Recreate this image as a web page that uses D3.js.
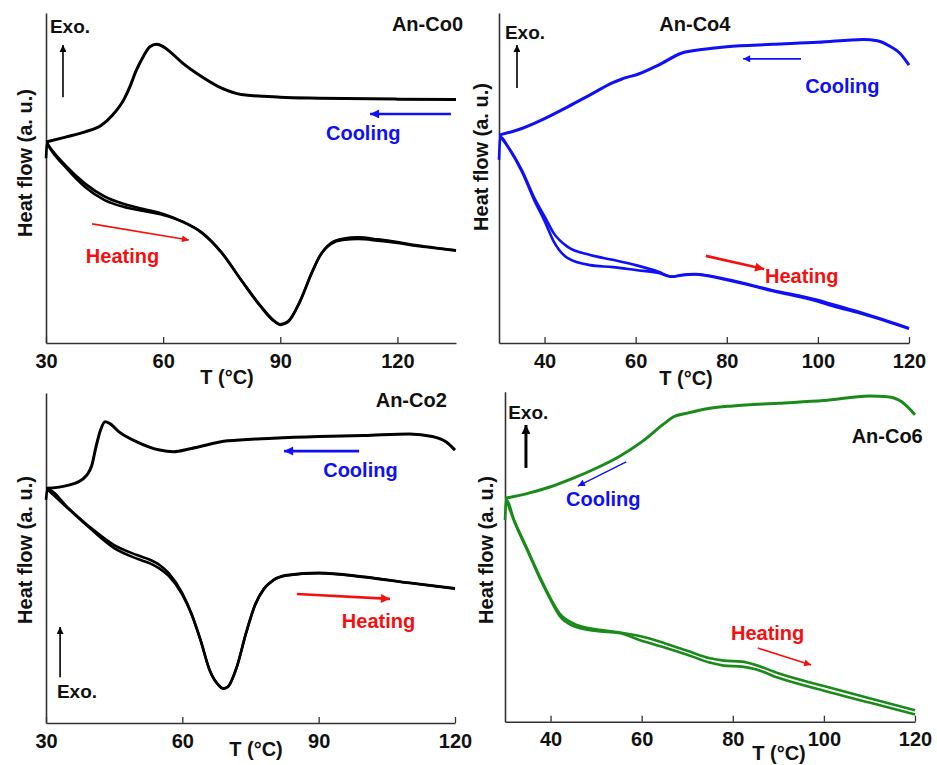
<!DOCTYPE html>
<html><head><meta charset="utf-8">
<script src="https://cdn.jsdelivr.net/npm/d3@7"></script>
<style>
html,body{margin:0;padding:0;background:#fff;}
text{font-family:"Liberation Sans",Arial,sans-serif;font-weight:bold;}
</style></head>
<body><svg id="chart" width="937" height="765"></svg>
<script>
// ---------------- DATA (T in °C, heat flow in arbitrary units) ----------------
const co0Cooling = [[30,60.9],[35,62.4],[40,64],[44,65.8],[47,69],[50,73.9],[51.5,77.7],[53,82.3],[55,87],[56.6,89.8],[58.3,90.5],[60,89.8],[62,88],[65,84.8],[70,80.6],[75,77.2],[80,75.3],[90,74.5],[100,74.2],[120,73.9],[135,73.8]];
const co0HeatingA = [[30,56],[30.3,60.5],[30.8,59.4],[35,53.3],[40,47.3],[45,43.3],[50,41.2],[55,40],[60,38.8],[65,36.7],[70,33.3],[75,27.3],[80,19],[85,11],[88,7],[90,5.5],[92,6.4],[95,12.4],[98,21],[100,26],[103,30],[106,31.2],[110,31.5],[115,31],[120,30.3],[125,29.4],[130,28.7],[135,28]];
const co0HeatingB = [[30.3,60.5],[30.8,59.6],[35,53.8],[40,48.3],[45,44.4],[50,42.1],[55,40.6],[60,39.1],[65,36.8],[70,33.4],[75,27.4],[80,19.1],[85,11.2],[88,7.2],[90,5.7],[92,6.6],[95,12.6],[98,21.2],[100,26.2],[103,30.3],[106,31.6],[110,32],[115,31.4],[120,30.6],[125,29.6],[130,28.8],[135,28.1]];

const co4Cooling = [[30,63],[35,65],[40,68],[45,71.5],[50,75.2],[55,78.9],[57,80],[58,80.5],[60,81.2],[65,84.2],[70,87.8],[75,89],[80,89.8],[90,90.5],[100,91.1],[110,92],[113,91.6],[116,89.8],[118,87.8],[120,84.2]];
const co4HeatingA = [[30,55.5],[30.3,62.5],[32,59.5],[35,52.4],[38,43.3],[40,38.4],[42,33.3],[45,29.2],[50,26.7],[55,25.2],[60,23.6],[65,21.6],[68,20.1],[70,20.6],[73,20.9],[80,19.3],[90,16],[100,13],[103,11.8],[110,9],[120,4.5]];
const co4HeatingB = [[30.3,62.5],[32,59.3],[35,52],[38,42.5],[40,37],[42,30.8],[45,25.8],[50,23.6],[55,23],[60,22.1],[65,21.2],[68,20.1],[70,20.5],[73,20.8],[80,19.1],[90,15.8],[100,12.6],[103,11.3],[110,8.7],[120,4.3]];

const co2Cooling = [[30,71.1],[35,72.1],[38,73.8],[40,77.7],[41,83.7],[42,88.8],[43,91.3],[44,90.8],[46,88.3],[50,85.2],[55,82.7],[58,82.2],[62,83.2],[70,85.5],[80,86.3],[90,86.8],[100,87.1],[110,87.6],[115,86.8],[118,85.2],[120,82.7]];
const co2HeatingA = [[30,67.6],[30.3,70.8],[35,65],[40,59],[45,53.9],[50,50.9],[53,49.4],[55,47.9],[57,45.4],[60,39.3],[62,33.2],[64,25.2],[66,16.1],[68,11.5],[69,10.5],[70,11],[72,17.1],[74,27.2],[76,35.8],[78,40.8],[80,43.3],[83,44.8],[90,45.5],[100,44.3],[110,42.5],[120,40.8]];
const co2HeatingB = [[30.3,70.8],[35,64.8],[40,58.6],[45,53],[50,49.8],[53,48.3],[55,46.8],[57,44.6],[60,38.9],[62,33],[64,25.1],[66,16],[68,11.4],[69,10.4],[70,10.9],[72,17],[74,27.1],[76,35.7],[78,40.7],[80,43.2],[83,44.7],[90,45.4],[100,44.2],[110,42.4],[120,40.7]];

const co6Cooling = [[30,67.7],[35,69.2],[40,71.2],[45,73.8],[50,76.8],[55,80.3],[60,84.8],[65,90.4],[67,92.4],[70,93.5],[75,95],[80,95.7],[90,96.5],[100,97.3],[110,98.7],[114,98.5],[117,97],[120,93]];
const co6HeatingA = [[30,61.1],[30.3,67.2],[32,61.1],[35,52],[38,42.9],[40,37.4],[42,32.8],[45,29.8],[50,28],[55,27.1],[60,25.8],[65,23.8],[70,21.5],[75,19.2],[78,18.5],[82,18.2],[85,17.2],[90,14.7],[100,10.8],[110,7.1],[120,3.5]];
const co6HeatingB = [[30.3,67.2],[32,60.8],[35,51.6],[38,42.4],[40,36.9],[42,32],[45,29],[50,27.5],[55,26.9],[60,24.5],[65,22.5],[70,20.3],[75,17.9],[78,17],[82,16.7],[85,15.9],[90,13.3],[100,9.4],[110,5.8],[120,2.2]];

const ticksCo0 = [30,60,90,120];
const ticksCo4 = [40,60,80,100,120];
const ticksCo2 = [30,60,90,120];
const ticksCo6 = [40,60,80,100,120];

const sampleNames = ["An-Co0","An-Co4","An-Co2","An-Co6"];
const xLabel = "T (°C)";
const yLabel = "Heat flow (a. u.)";
const exoLabel = "Exo.";
const coolLabel = "Cooling";
const heatLabel = "Heating";

// annotation anchors in data units [T, HF]
const exoArrows   = [[[34.35,74.5],[34.35,90.3]],[[33.95,77.3],[33.95,90.3]],[[33.1,13.9],[33.1,29.1]],[[34.6,76.9],[34.6,89.9]]];
const exoText     = [[31,93.9],[31.3,92.1],[32.4,7.6],[30.7,91.7]];
const nameText    = [[136.8,94.5],[73,94.5],[118.2,95.8],[121.7,84.5]];
const coolArrows  = [[[133.7,69.4],[113,69.4]],[[96.3,86.1],[83.6,86.1]],[[98.9,82.4],[82.4,82.4]],[[56.6,78.7],[46,71.4]]];
const coolText    = [[101.7,61.5],[97.2,75.8],[91,74.5],[43.4,65.4]];
const heatArrows  = [[[41.8,36.1],[66.6,31.2]],[[75.4,26.4],[88.2,22.4]],[[85.2,39.1],[105.7,37.6]],[[85.5,22.3],[97.2,17.2]]];
const heatText    = [[40.2,24.2],[88.4,18.2],[95.1,28.8],[79.6,24.8]];

// ---------------- LAYOUT ----------------
const panels = [
  {name:sampleNames[0], cool:co0Cooling, heat:[co0HeatingA,co0HeatingB], ticks:ticksCo0, color:"#000000",
   xd:[30,135], xr:[46,456], yr:[343,13], nameAnchor:"end", xlabX:227, xlabY:384, ylabX:32, ylabY:163, tickY:368,
   exoW:1.6, coolW:2.6, heatW:1.6},
  {name:sampleNames[1], cool:co4Cooling, heat:[co4HeatingA,co4HeatingB], ticks:ticksCo4, color:"#1010f5",
   xd:[30,120], xr:[499,909], yr:[343,13], nameAnchor:"middle", xlabX:686, xlabY:385, ylabX:488, ylabY:157, tickY:368,
   exoW:1.6, coolW:1.6, heatW:2.6},
  {name:sampleNames[2], cool:co2Cooling, heat:[co2HeatingA,co2HeatingB], ticks:ticksCo2, color:"#000000",
   xd:[30,120], xr:[46,455], yr:[723,393], nameAnchor:"end", xlabX:256, xlabY:756, ylabX:32, ylabY:550, tickY:748,
   exoW:1.6, coolW:2.6, heatW:2.6},
  {name:sampleNames[3], cool:co6Cooling, heat:[co6HeatingA,co6HeatingB], ticks:ticksCo6, color:"#1a8a1a",
   xd:[30,120], xr:[505,915], yr:[721.7,391.7], nameAnchor:"end", xlabX:779, xlabY:760, ylabX:493, ylabY:550, tickY:746,
   exoW:3, coolW:1.4, heatW:1.6}
];

const FS = 20;
const svg = d3.select("#chart");
const defs = svg.append("defs");
function marker(id,color,w,h){
  defs.append("marker").attr("id",id).attr("viewBox","0 0 10 10").attr("refX",10).attr("refY",5)
    .attr("markerUnits","userSpaceOnUse").attr("markerWidth",w).attr("markerHeight",h).attr("orient","auto")
    .append("path").attr("d","M0,0 L10,5 L0,10 Z").attr("fill",color);
}
marker("mBlackS","#000",9,7);
marker("mBlackL","#000",12,9);
marker("mBlue","#1010f5",14,9);
marker("mBlueS","#1010f5",10,7);
marker("mRed","#f51010",14,9);
marker("mRedS","#f51010",10,7);

const yScaleDomain = [0,100];
const blue = "#1010f5", red = "#f51010";

panels.forEach((p,i)=>{
  const x = d3.scaleLinear().domain(p.xd).range(p.xr);
  const y = d3.scaleLinear().domain(yScaleDomain).range(p.yr);
  const g = svg.append("g");

  // axes
  const xAxis = d3.axisBottom(x).tickValues(p.ticks).tickSizeInner(-6).tickSizeOuter(0).tickPadding(10);
  const ax = g.append("g").attr("transform",`translate(0,${p.yr[0]})`).call(xAxis);
  ax.select(".domain").attr("stroke","#333").attr("stroke-width",1.6);
  ax.selectAll(".tick line").attr("stroke","#333").attr("stroke-width",1.3);
  ax.selectAll(".tick text").attr("font-size",FS).attr("fill","#111")
    .attr("font-family","Liberation Sans, Arial, sans-serif").attr("font-weight","bold")
    .attr("y",p.tickY - p.yr[0]).attr("dy",0);
  const yAxis = d3.axisLeft(y).tickValues([]).tickSizeOuter(0);
  const ay = g.append("g").attr("transform",`translate(${p.xr[0]},0)`).call(yAxis);
  ay.select(".domain").attr("stroke","#333").attr("stroke-width",1.6);

  // curves
  const line = d3.line().x(d=>x(d[0])).y(d=>y(d[1])).curve(d3.curveMonotoneX);
  p.heat.forEach(s=>{
    g.append("path").datum(s).attr("d",line).attr("fill","none").attr("stroke",p.color)
     .attr("stroke-width",2.6).attr("stroke-linejoin","round");
  });
  g.append("path").datum(p.cool).attr("d",line).attr("fill","none").attr("stroke",p.color)
   .attr("stroke-width",3).attr("stroke-linejoin","round");

  // labels
  g.append("text").attr("x",p.xlabX).attr("y",p.xlabY).attr("text-anchor","middle")
    .attr("font-size",FS).attr("fill","#111").text(xLabel);
  g.append("text").attr("transform",`translate(${p.ylabX},${p.ylabY}) rotate(-90)`).attr("text-anchor","middle")
    .attr("font-size",FS).attr("fill","#111").text(yLabel);

  g.append("text").attr("x",x(nameText[i][0])).attr("y",y(nameText[i][1])).attr("text-anchor",p.nameAnchor)
    .attr("font-size",FS).attr("fill","#111").text(p.name);

  // Exo
  const ea = exoArrows[i];
  g.append("line").attr("x1",x(ea[0][0])).attr("y1",y(ea[0][1])).attr("x2",x(ea[1][0])).attr("y2",y(ea[1][1]))
    .attr("stroke","#000").attr("stroke-width",p.exoW).attr("marker-end",p.exoW>2?"url(#mBlackL)":"url(#mBlackS)");
  g.append("text").attr("x",x(exoText[i][0])).attr("y",y(exoText[i][1])).attr("font-size",FS-1).attr("fill","#111").text(exoLabel);

  // Cooling
  const ca = coolArrows[i];
  g.append("line").attr("x1",x(ca[0][0])).attr("y1",y(ca[0][1])).attr("x2",x(ca[1][0])).attr("y2",y(ca[1][1]))
    .attr("stroke",blue).attr("stroke-width",p.coolW).attr("marker-end",p.coolW>2?"url(#mBlue)":"url(#mBlueS)");
  g.append("text").attr("x",x(coolText[i][0])).attr("y",y(coolText[i][1])).attr("font-size",FS).attr("fill",blue).text(coolLabel);

  // Heating
  const ha = heatArrows[i];
  g.append("line").attr("x1",x(ha[0][0])).attr("y1",y(ha[0][1])).attr("x2",x(ha[1][0])).attr("y2",y(ha[1][1]))
    .attr("stroke",red).attr("stroke-width",p.heatW).attr("marker-end",p.heatW>2?"url(#mRed)":"url(#mRedS)");
  g.append("text").attr("x",x(heatText[i][0])).attr("y",y(heatText[i][1])).attr("font-size",FS).attr("fill",red).text(heatLabel);
});
</script></body></html>
